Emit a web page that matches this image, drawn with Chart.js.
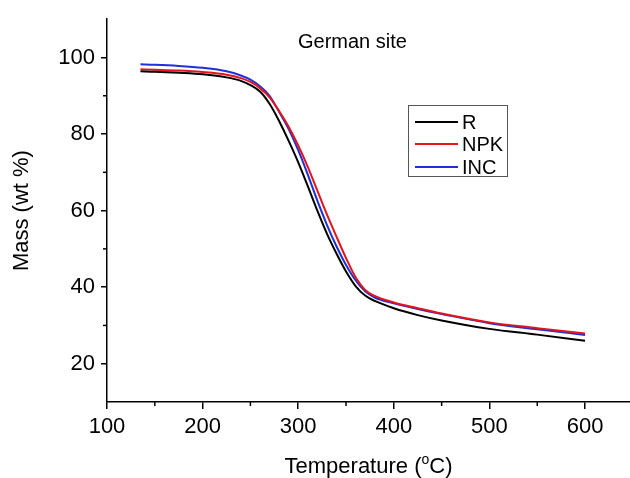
<!DOCTYPE html>
<html>
<head>
<meta charset="utf-8">
<script src="https://cdn.jsdelivr.net/npm/chart.js@4.4.1/dist/chart.umd.min.js"></script>
<style>
  html, body { margin: 0; padding: 0; background: #fff; }
</style>
</head>
<body>
<canvas id="tga" width="630" height="478"></canvas>
<script>
// TGA curves, German site
const temps   = [135, 150, 175, 200, 225, 240, 250, 260, 270, 280, 290, 300, 310, 320, 330, 340, 350, 360, 370, 380, 400, 425, 450, 500, 550, 600];
const massR   = [96.4, 96.3, 96.0, 95.6, 94.8, 93.9, 92.8, 91.1, 87.9, 83.4, 78.2, 72.6, 66.4, 60.0, 54.0, 48.8, 44.1, 40.3, 37.8, 36.4, 34.5, 32.7, 31.3, 29.1, 27.6, 26.0];
const massNPK = [96.9, 96.8, 96.6, 96.2, 95.5, 94.6, 93.6, 92.0, 89.6, 86.0, 81.9, 77.0, 71.4, 65.2, 59.0, 53.2, 47.6, 42.6, 39.3, 37.7, 36.0, 34.5, 33.1, 30.8, 29.3, 27.9];
const massINC = [98.2, 98.1, 97.8, 97.3, 96.4, 95.3, 94.2, 92.5, 90.0, 85.8, 81.3, 75.8, 69.4, 62.6, 56.3, 50.7, 45.8, 41.8, 38.9, 37.3, 35.8, 34.3, 33.0, 30.6, 29.0, 27.5];

const seriesNames  = ['R', 'NPK', 'INC'];
const seriesColors = ['#000000', '#e3141c', '#2030d8'];

const xTicks      = [100, 200, 300, 400, 500, 600];
const xMinorTicks = [150, 250, 350, 450, 550];
const yTicks      = [20, 40, 60, 80, 100];
const yMinorTicks = [30, 50, 70, 90];

const FONT = 'Liberation Sans, Arial, Helvetica, sans-serif';

const seriesData = [massR, massNPK, massINC];
const datasets = seriesNames.map((name, i) => ({
  label: name,
  data: temps.map((t, j) => ({ x: t, y: seriesData[i][j] })),
  borderColor: seriesColors[i],
  backgroundColor: seriesColors[i],
  borderWidth: 2,
  pointRadius: 0,
  fill: false,
  cubicInterpolationMode: 'monotone',
}));

// minor ticks, x title with superscript, chart title and boxed legend
const extras = {
  id: 'extras',
  afterDraw(chart) {
    const { ctx, scales: { x, y } } = chart;
    ctx.save();
    ctx.strokeStyle = '#000';
    ctx.lineWidth = 1.5;
    xMinorTicks.forEach(v => {
      const px = x.getPixelForValue(v);
      ctx.beginPath();
      ctx.moveTo(px, x.top);
      ctx.lineTo(px, x.top + 4);
      ctx.stroke();
    });
    yMinorTicks.forEach(v => {
      const py = y.getPixelForValue(v);
      ctx.beginPath();
      ctx.moveTo(y.right, py);
      ctx.lineTo(y.right - 4, py);
      ctx.stroke();
    });

    ctx.fillStyle = '#000';
    ctx.textBaseline = 'alphabetic';

    // x axis title: Temperature (oC) with raised small o
    const big = '22px ' + FONT, small = '14px ' + FONT;
    const p1 = 'Temperature (', sup = 'o', p2 = 'C)';
    ctx.font = big;
    const w1 = ctx.measureText(p1).width, w3 = ctx.measureText(p2).width;
    ctx.font = small;
    const w2 = ctx.measureText(sup).width;
    const total = w1 + w2 + w3;
    let tx = (x.left + x.right) / 2 - total / 2;
    const ty = 473;
    ctx.textAlign = 'left';
    ctx.font = big;
    ctx.fillText(p1, tx, ty);
    ctx.font = small;
    ctx.fillText(sup, tx + w1, ty - 9);
    ctx.font = big;
    ctx.fillText(p2, tx + w1 + w2, ty);

    // title inside plot
    ctx.font = '20px ' + FONT;
    ctx.fillText('German site', 298, 48);

    // legend box
    ctx.strokeStyle = '#555';
    ctx.lineWidth = 1;
    ctx.strokeRect(408.5, 105.5, 99, 71);
    const rows = [122, 144, 167];
    ctx.textBaseline = 'middle';
    seriesNames.forEach((name, i) => {
      ctx.strokeStyle = seriesColors[i];
      ctx.lineWidth = 2;
      ctx.beginPath();
      ctx.moveTo(415, rows[i]);
      ctx.lineTo(458, rows[i]);
      ctx.stroke();
      ctx.fillStyle = '#000';
      ctx.font = '20px ' + FONT;
      ctx.fillText(name, 462, rows[i] + 1);
    });
    ctx.restore();
  }
};

new Chart(document.getElementById('tga'), {
  type: 'line',
  data: { datasets },
  options: {
    responsive: false,
    animation: false,
    layout: { padding: { top: 15, right: 0, left: 0, bottom: 0 } },
    plugins: {
      legend: { display: false },
      tooltip: { enabled: false },
    },
    scales: {
      x: {
        type: 'linear',
        min: 100,
        max: 647,
        afterBuildTicks: s => { s.ticks = xTicks.map(v => ({ value: v })); },
        afterFit: s => { s.height = 76; },
        grid: { drawOnChartArea: false, drawTicks: true, tickLength: 7, color: '#000', lineWidth: 1.5 },
        border: { display: true, color: '#000', width: 1.5 },
        ticks: { color: '#000', font: { family: FONT, size: 22 }, padding: 5, maxRotation: 0 },
      },
      y: {
        min: 10,
        max: 110,
        afterBuildTicks: s => { s.ticks = yTicks.map(v => ({ value: v })); },
        afterFit: s => { s.width = 107; },
        grid: { drawOnChartArea: false, drawTicks: true, tickLength: 6, color: '#000', lineWidth: 1.5 },
        border: { display: true, color: '#000', width: 1.5 },
        ticks: { color: '#000', font: { family: FONT, size: 22 }, padding: 6 },
        title: { display: true, text: 'Mass (wt %)', color: '#000', font: { family: FONT, size: 22 }, padding: { top: 9 } },
      },
    },
  },
  plugins: [extras],
});
</script>
</body>
</html>
